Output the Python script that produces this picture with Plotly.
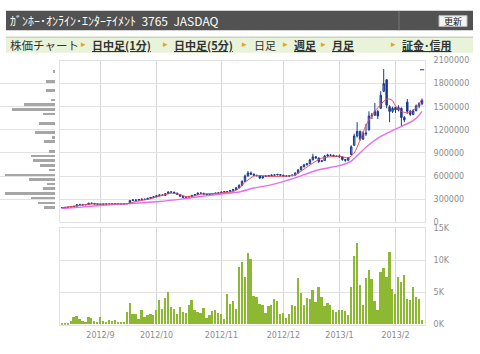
import plotly.graph_objects as go

# ---------------- data ----------------
# daily candles (thousand yen), 2012/8/15 .. 2013/2/15
open_k = [188,190,193,196,200,208,228,232,226,232,248,246,238,
          236,232,236,238,235,240,242,238,236,240,250,282,290,286,295,300,298,312,322,
          332,345,355,350,372,395,392,380,362,338,325,322,335,350,360,380,378,365,358,362,372,378,
          382,392,398,400,412,425,448,480,530,600,640,625,610,605,575,595,600,605,612,615,620,
          612,600,598,605,612,640,680,720,745,760,810,850,835,790,800,860,872,870,858,
          860,850,815,805,880,1000,1120,1180,1080,1160,1200,1380,1390,1440,1480,1700,1850,1500,1440,
          1490,1460,1480,1360,1560,1440,1400,1450,1510,1540]
high_k = [194,195,198,203,212,235,236,234,234,252,254,248,242,
          238,240,242,240,244,246,244,240,244,246,288,296,294,300,306,304,316,328,338,
          350,362,360,380,400,402,394,382,366,342,332,340,356,366,388,386,380,368,368,378,384,390,
          396,404,406,418,432,456,492,545,620,665,660,632,618,608,600,610,612,620,628,630,624,
          616,608,612,620,648,690,730,760,770,825,890,860,840,808,875,890,885,878,868,
          880,856,822,848,1000,1150,1300,1190,1180,1280,1440,1420,1550,1460,1700,1990,1860,1520,1500,
          1500,1520,1490,1380,1600,1460,1470,1530,1560,1600]
low_k = [186,188,191,194,198,206,224,222,224,230,242,234,232,
         228,230,233,232,234,238,235,233,235,238,248,278,280,284,292,292,296,308,318,
         328,340,344,348,368,384,374,356,332,318,316,320,332,346,356,372,360,352,354,360,368,374,
         378,388,392,396,408,420,444,476,525,595,615,600,596,560,568,588,594,598,606,610,604,
         594,590,594,600,608,636,676,714,738,756,805,826,770,780,796,850,860,850,848,
         840,800,785,800,870,990,1100,1060,1070,1120,1190,1340,1380,1340,1470,1690,1480,1300,1420,
         1420,1440,1250,1300,1410,1380,1390,1440,1480,1520]
close_k = [190,193,196,200,206,228,232,226,230,248,246,238,236,
           232,236,238,235,240,242,238,236,240,243,282,290,286,295,300,298,312,322,332,
           345,355,350,372,395,392,380,362,338,325,322,335,350,360,380,378,365,358,362,372,378,382,
           392,398,400,412,425,448,480,530,600,640,625,610,605,575,595,600,605,612,615,620,612,
           600,598,605,612,640,680,720,745,760,810,850,835,790,800,860,872,870,858,855,
           850,815,805,840,980,1120,1180,1080,1160,1150,1380,1390,1440,1380,1650,1800,1520,1440,1480,
           1460,1490,1360,1330,1440,1400,1450,1510,1540,1580]

# daily volume (thousand shares)
volume_k = [0.15,0.15,0.15,0.5,1.2,1.3,0.8,0.5,0.4,1.2,1.0,0.6,0.4,
            1.1,0.5,0.4,0.7,0.6,0.7,0.4,0.4,0.4,1.9,3.3,1.7,1.6,0.9,2.3,1.2,1.5,1.7,1.4,
            2.3,3.8,2.4,4.1,5.0,2.7,2.4,1.6,2.7,2.0,1.8,3.1,3.8,2.2,2.0,1.8,2.5,1.0,1.4,2.1,2.2,1.8,
            1.7,0.8,4.7,3.2,3.7,2.4,9.0,9.75,7.45,11.1,10.2,4.5,4.3,3.2,3.0,1.8,2.8,3.0,3.9,3.7,1.6,
            1.8,1.0,1.7,3.0,2.9,7.2,4.9,3.1,4.1,4.0,5.4,3.5,5.9,4.3,2.8,3.4,3.1,2.3,2.0,
            2.2,2.3,2.1,1.4,5.8,10.7,12.6,6.1,3.0,7.3,8.4,7.1,3.7,2.3,8.1,8.8,7.45,11.3,5.5,
            4.8,7.35,6.6,7.75,3.9,3.8,5.9,4.3,4.0,0.75]

# moving averages (trading-day index, thousand yen)
ma_short_idx = [0,5,9,13,18,22,25,30,33,37,40,42,45,47,53,58,60,62,65,67,71,76,79,82,85,88,94,97,99,101,103,106,108,110,111,112,113,115,117,119,120,121,122]
ma_short_k = [190,215,235,238,238,240,270,305,340,378,360,335,345,365,378,400,440,520,600,608,595,600,615,690,769,833,860,835,900,1065,1260,1440,1530,1600,1600,1580,1510,1440,1420,1450,1490,1530,1610]
ma_long_idx = [0,13,33,41,45,54,60,65,70,75,80,87,94,98,103,108,113,119,121,122]
ma_long_k = [177,219,270,304,325,367,393,445,480,528,590,682,735,795,975,1115,1210,1320,1390,1440]

# marker at top right
mark_idx = [122]
mark_k = [1980]

# price-by-volume profile
prof_price_k = [1960,1838,1715,1593,1534,1474,1411,1293,1170,1112,1052,929,866,807,744,684,621,562,503,444,380,321,257,199]
prof_vol = [1,7,7,3,25,35,10,13,16,2.3,9.3,5.3,20,18,12,4.7,41,21,6.7,10,41,20,14,8.7]

month_start_idx = [13, 32, 54, 75, 94, 113]
month_labels = ["2012/9", "2012/10", "2012/11", "2012/12", "2013/1", "2013/2"]
price_ticks = [0, 300000, 600000, 900000, 1200000, 1500000, 1800000, 2100000]
vol_ticks = [0, 5000, 10000, 15000]
vol_tick_labels = ["0K", "5K", "10K", "15K"]

title_text = "ｶﾞﾝﾎｰ･ｵﾝﾗｲﾝ･ｴﾝﾀｰﾃｲﾒﾝﾄ  3765  JASDAQ"
nav_items = ["株価チャート", "日中足(1分)", "日中足(5分)", "日足", "週足", "月足", "証金･信用"]

# ---------------- figure ----------------
W, H = 480, 354
def px(x):
    return x / W
def py(y):
    return 1 - y / H

K = 1000
x_idx = list(range(len(close_k)))

fig = go.Figure()

NAVY = "#1c3a8e"
fig.add_trace(go.Candlestick(
    x=x_idx,
    open=[v * K for v in open_k], high=[v * K for v in high_k],
    low=[v * K for v in low_k], close=[v * K for v in close_k],
    increasing=dict(fillcolor="#7f9cca", line=dict(color=NAVY, width=1)),
    decreasing=dict(fillcolor=NAVY, line=dict(color=NAVY, width=1)),
    whiskerwidth=0, xaxis="x", yaxis="y", showlegend=False, hoverinfo="skip",
))
fig.add_trace(go.Scatter(x=ma_long_idx, y=[v * K for v in ma_long_k], mode="lines",
                         line=dict(color="#e070f0", width=1.4, shape="spline", smoothing=0.6),
                         xaxis="x", yaxis="y", showlegend=False, hoverinfo="skip"))
fig.add_trace(go.Scatter(x=ma_short_idx, y=[v * K for v in ma_short_k], mode="lines",
                         line=dict(color="#e84a64", width=1, shape="spline", smoothing=0.6),
                         xaxis="x", yaxis="y", showlegend=False, hoverinfo="skip"))
fig.add_trace(go.Scatter(x=mark_idx, y=[v * K for v in mark_k], mode="markers",
                         marker=dict(symbol="line-ew", size=3, line=dict(color=NAVY, width=1.2)),
                         xaxis="x", yaxis="y", showlegend=False, hoverinfo="skip"))

fig.add_trace(go.Bar(x=x_idx, y=[v * K for v in volume_k], marker=dict(color="#8cb832", line=dict(width=0)),
                     width=0.62, xaxis="x2", yaxis="y2", showlegend=False, hoverinfo="skip"))

fig.add_trace(go.Bar(x=prof_vol, y=[v * K for v in prof_price_k], orientation="h",
                     marker=dict(color="#a6a6a6", line=dict(width=0)), width=36000,
                     xaxis="x3", yaxis="y", showlegend=False, hoverinfo="skip"))

GRID = "#e2e2e2"
VGRID = "#d6d6d6"
TICKFONT = dict(family="DejaVu Sans", size=8, color="#8c8c8c")
xdom = [px(60), px(425)]

fig.update_layout(
    width=W, height=H, autosize=False,
    margin=dict(l=0, r=0, t=0, b=0),
    paper_bgcolor="white", plot_bgcolor="white",
    bargap=0,
    xaxis=dict(domain=xdom, anchor="y", range=[-0.7, 123], tickvals=month_start_idx,
               showticklabels=False, showgrid=True, gridcolor=VGRID, gridwidth=1,
               showline=True, linecolor=GRID, mirror=True, zeroline=False, ticks="",
               rangeslider=dict(visible=False), fixedrange=True),
    yaxis=dict(domain=[py(224), py(58)], anchor="x", side="right", range=[0, 2100000],
               tickvals=price_ticks, tickformat="d", showgrid=True, gridcolor=GRID, gridwidth=1,
               showline=True, linecolor=GRID, mirror=True, zeroline=False, ticks="",
               ticklabelstandoff=6, tickfont=TICKFONT),
    xaxis2=dict(domain=xdom, anchor="y2", range=[-0.7, 123], tickvals=month_start_idx,
                ticktext=month_labels, showgrid=True, gridcolor=VGRID, gridwidth=1,
                showline=True, linecolor=GRID, mirror=True, zeroline=False, ticks="",
                tickfont=TICKFONT, ticklabelstandoff=3),
    yaxis2=dict(domain=[py(329), py(230)], anchor="x2", side="right", range=[0, 15000],
                tickvals=vol_ticks, ticktext=vol_tick_labels, showgrid=True, gridcolor=GRID,
                gridwidth=1, showline=True, linecolor=GRID, mirror=True, zeroline=False,
                ticks="", ticklabelstandoff=6, tickfont=TICKFONT),
    xaxis3=dict(domain=[0, px(55)], anchor="y", range=[45, 0], visible=False),
)

shapes = []
# dark header bar
shapes.append(dict(type="rect", xref="paper", yref="paper", x0=px(6), x1=px(473), y0=py(27), y1=py(7),
                   fillcolor="#525252", line=dict(width=0), layer="below"))
shapes.append(dict(type="line", xref="paper", yref="paper", x0=px(399), x1=px(399), y0=py(27), y1=py(7),
                   line=dict(color="#777777", width=1)))
# refresh button
shapes.append(dict(type="rect", xref="paper", yref="paper", x0=px(439), x1=px(467), y0=py(23), y1=py(12),
                   fillcolor="#f4f4f4", line=dict(color="#bbbbbb", width=1)))
# green nav bar
shapes.append(dict(type="rect", xref="paper", yref="paper", x0=px(6), x1=px(473), y0=py(50), y1=py(34),
                   fillcolor="#e8f3da", line=dict(width=0), layer="below"))
shapes.append(dict(type="line", xref="paper", yref="paper", x0=px(6), x1=px(473), y0=py(34), y1=py(34),
                   line=dict(color="#c9d3c0", width=1.5)))
fig.update_layout(shapes=shapes)

ann = []
ann.append(dict(text=title_text, x=px(8), y=py(17), xref="paper", yref="paper", xanchor="left",
                yanchor="middle", showarrow=False,
                font=dict(family="Noto Sans CJK JP", size=12, color="white")))
ann.append(dict(text="更新", x=px(453), y=py(17.5), xref="paper", yref="paper", xanchor="center",
                yanchor="middle", showarrow=False,
                font=dict(family="Noto Sans CJK JP", size=9, color="#222222")))
ann.append(dict(text=nav_items[0], x=px(8), y=py(42), xref="paper", yref="paper", xanchor="left",
                yanchor="middle", showarrow=False,
                font=dict(family="Noto Sans CJK JP", size=11.5, color="#333333")))
bullet_x = [83, 165, 245, 285, 323, 393]
for i, (bx, label) in enumerate(zip(bullet_x, nav_items[1:])):
    ann.append(dict(text="▸", x=px(bx), y=py(41.5), xref="paper", yref="paper", xanchor="center",
                    yanchor="middle", showarrow=False,
                    font=dict(family="DejaVu Sans", size=9, color="#f0a020")))
    txt = label if label == "日足" else "<b><u>" + label + "</u></b>"
    ann.append(dict(text=txt, x=px(bx + 7), y=py(42), xref="paper", yref="paper", xanchor="left",
                    yanchor="middle", showarrow=False,
                    font=dict(family="Noto Sans CJK JP", size=11, color="#333333")))
fig.update_layout(annotations=ann)

fig.write_html("out.html")
